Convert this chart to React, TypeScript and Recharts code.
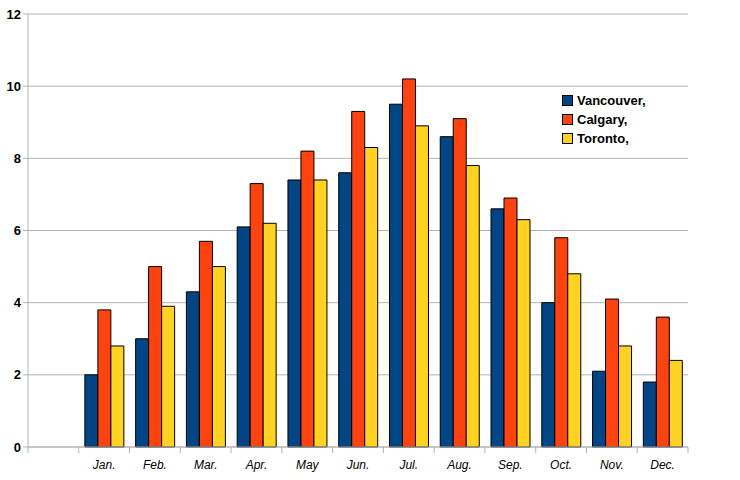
import { Bar, BarChart, CartesianGrid, Legend, XAxis, YAxis } from "recharts";

const months = ["", "Jan.", "Feb.", "Mar.", "Apr.", "May", "Jun.", "Jul.", "Aug.", "Sep.", "Oct.", "Nov.", "Dec."];
const vancouver = [null, 2.0, 3.0, 4.3, 6.1, 7.4, 7.6, 9.5, 8.6, 6.6, 4.0, 2.1, 1.8];
const calgary = [null, 3.8, 5.0, 5.7, 7.3, 8.2, 9.3, 10.2, 9.1, 6.9, 5.8, 4.1, 3.6];
const toronto = [null, 2.8, 3.9, 5.0, 6.2, 7.4, 8.3, 8.9, 7.8, 6.3, 4.8, 2.8, 2.4];
const yTicks = [0, 2, 4, 6, 8, 10, 12];

const VANCOUVER_COLOR = "#004586";
const CALGARY_COLOR = "#ff420e";
const TORONTO_COLOR = "#ffd320";
const GRID_COLOR = "#b3b3b3";
const FONT = "'Liberation Sans', Arial, sans-serif";

const WIDTH = 740;
const HEIGHT = 480;
const MARGIN = { top: 14, right: 52, left: 0, bottom: 8 };
const Y_AXIS_WIDTH = 28;
const STEP = (WIDTH - MARGIN.right - Y_AXIS_WIDTH) / months.length;

const series = [
  { key: "vancouver", name: "Vancouver,", color: VANCOUVER_COLOR },
  { key: "calgary", name: "Calgary,", color: CALGARY_COLOR },
  { key: "toronto", name: "Toronto,", color: TORONTO_COLOR },
];

const data = months.map((m, i) => ({
  month: m,
  vancouver: vancouver[i],
  calgary: calgary[i],
  toronto: toronto[i],
}));

// ticks sit on the category boundaries, labels in the middle
function MonthTick(props: any) {
  const { x, y, payload, index } = props;
  const left = x - STEP / 2;
  const right = x + STEP / 2;
  return (
    <g>
      <line x1={left} y1={y - 8} x2={left} y2={y - 2} stroke={GRID_COLOR} />
      {index === months.length - 1 && (
        <line x1={right} y1={y - 8} x2={right} y2={y - 2} stroke={GRID_COLOR} />
      )}
      <text
        x={x}
        y={y + 14}
        textAnchor="middle"
        fontFamily={FONT}
        fontSize={12}
        fontStyle="italic"
        fill="#000"
      >
        {payload.value}
      </text>
    </g>
  );
}

function LegendBox() {
  return (
    <div style={{ fontFamily: FONT, fontSize: 13, fontWeight: "bold", color: "#000" }}>
      {series.map((s) => (
        <div key={s.key} style={{ display: "flex", alignItems: "center", height: 19 }}>
          <span
            style={{
              display: "inline-block",
              width: 9,
              height: 9,
              background: s.color,
              border: "1px solid #000",
              marginRight: 4,
            }}
          />
          {s.name}
        </div>
      ))}
    </div>
  );
}

export default function App() {
  return (
    <div style={{ position: "absolute", left: 0, top: 0, width: WIDTH, height: HEIGHT, background: "#fff" }}>
      <BarChart
        width={WIDTH}
        height={HEIGHT}
        data={data}
        margin={MARGIN}
        barCategoryGap="12%"
        barGap={0}
      >
        <CartesianGrid vertical={false} stroke={GRID_COLOR} />
        <XAxis
          dataKey="month"
          interval={0}
          tickLine={false}
          axisLine={{ stroke: GRID_COLOR }}
          tick={<MonthTick />}
          height={25}
        />
        <YAxis
          width={Y_AXIS_WIDTH}
          domain={[0, 12]}
          ticks={yTicks}
          interval={0}
          tickSize={5}
          tickMargin={2}
          tickLine={{ stroke: GRID_COLOR }}
          axisLine={{ stroke: GRID_COLOR }}
          tick={{ fontFamily: FONT, fontSize: 13, fontWeight: "bold", fill: "#000" }}
        />
        <YAxis
          yAxisId="right"
          orientation="right"
          width={0}
          tick={false}
          tickLine={false}
          axisLine={{ stroke: GRID_COLOR }}
        />
        <Legend
          content={<LegendBox />}
          layout="horizontal"
          verticalAlign="middle"
          align="center"
          wrapperStyle={{ top: 91, left: 562, width: 120 }}
        />
        {series.map((s) => (
          <Bar
            key={s.key}
            dataKey={s.key}
            name={s.name}
            fill={s.color}
            stroke="#000"
            strokeWidth={1}
            isAnimationActive={false}
          />
        ))}
      </BarChart>
    </div>
  );
}
